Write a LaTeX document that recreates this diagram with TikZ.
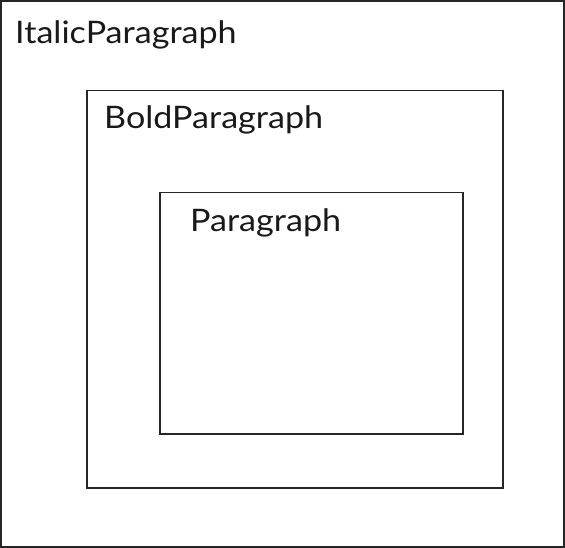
\documentclass[tikz,border=0pt]{standalone}
\usepackage{fontspec}
\setmainfont{Lato}[FakeStretch=1.1]
\begin{document}
\begin{tikzpicture}[x=1pt,y=-1pt,
  box/.style={draw=black!85,line width=1.5pt},
  lbl/.style={anchor=base west,inner sep=0pt,font=\fontsize{31}{36}\selectfont,text=black!90}]
\useasboundingbox (0,0) rectangle (565,548);
\draw[draw=black!85,line width=2pt] (1,1) rectangle (564,547);
\node[box,minimum width=416pt,minimum height=397pt,anchor=north west] (bold) at (86,90) {};
\node[box,minimum width=303pt,minimum height=241pt,anchor=north west] (para) at (159,192) {};
\node[lbl] (t1) at (15,44) {ItalicParagraph};
\node[lbl] (t2) at (104,129) {BoldParagraph};
\node[lbl] (t3) at (190,232) {Paragraph};
\end{tikzpicture}
\end{document}
